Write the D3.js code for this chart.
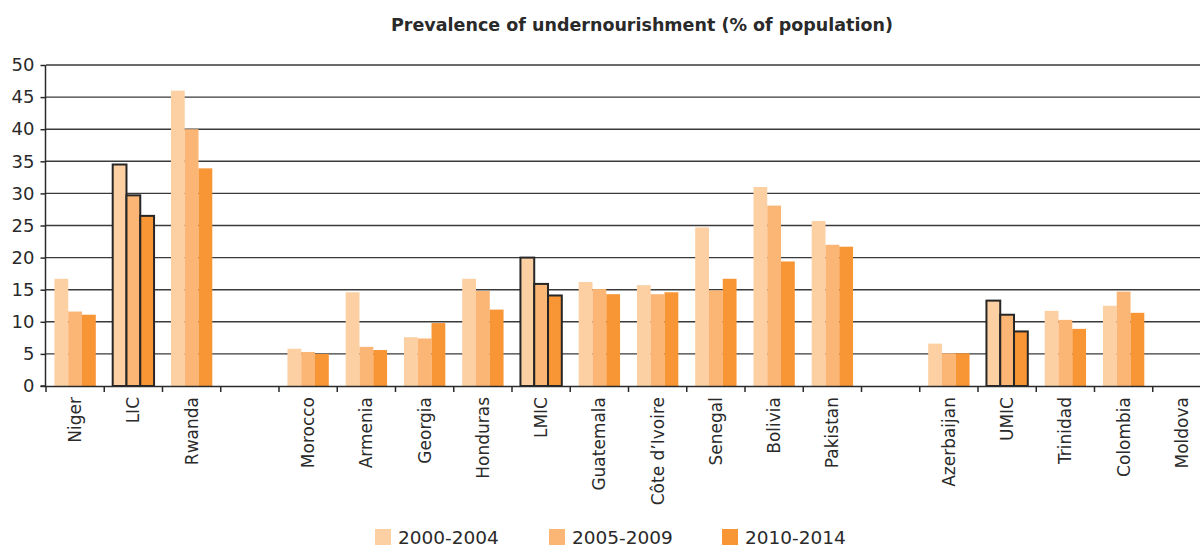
<!DOCTYPE html>
<html>
<head>
<meta charset="utf-8">
<script src="https://cdn.jsdelivr.net/npm/d3@7"></script>
<style>
  html, body { margin: 0; padding: 0; background: #fff; }
  svg { display: block; }
  text { font-family: "DejaVu Sans", Verdana, sans-serif; fill: #2a2a2a; }
</style>
</head>
<body>
<svg id="chart" width="1200" height="547"></svg>
<script>
const categories = ["Niger", "LIC", "Rwanda", "", "Morocco", "Armenia", "Georgia", "Honduras", "LMIC",
  "Guatemala", "Côte d\u2019Ivoire", "Senegal", "Bolivia", "Pakistan", "", "Azerbaijan", "UMIC",
  "Trinidad", "Colombia", "Moldova"];
const aggregates = ["LIC", "LMIC", "UMIC"];
const seriesNames = ["2000-2004", "2005-2009", "2010-2014"];
const s2000 = [16.7, 34.5, 46.0, null, 5.8, 14.6, 7.6, 16.7, 20.0, 16.2, 15.7, 24.7, 31.0, 25.7, null, 6.6, 13.3, 11.7, 12.5, null];
const s2005 = [11.6, 29.7, 40.0, null, 5.3, 6.1, 7.4, 14.8, 15.9, 15.1, 14.3, 14.9, 28.1, 22.0, null, 5.1, 11.1, 10.3, 14.7, null];
const s2010 = [11.1, 26.5, 33.9, null, 5.0, 5.6, 9.8, 11.9, 14.1, 14.3, 14.6, 16.7, 19.4, 21.7, null, 5.1, 8.5, 8.9, 11.4, null];
const yTicks = [0, 5, 10, 15, 20, 25, 30, 35, 40, 45, 50];
const colors = ["#FCD0A2", "#FBB574", "#F89534"];

const series = [s2000, s2005, s2010];
const svg = d3.select("#chart");
const keys = categories.map((c, i) => i);

const x = d3.scaleBand().domain(keys).range([46, 1211]).paddingInner(0).paddingOuter(0);
const groupW = x.bandwidth() * 0.71;
const xs = d3.scaleBand().domain([0, 1, 2]).range([0, groupW]).padding(0);
const y = d3.scaleLinear().domain([0, 50]).range([386, 65]);

// title
svg.append("text").attr("x", 642).attr("y", 31).attr("text-anchor", "middle")
  .style("font-weight", "bold").style("font-size", "17.5px").text("Prevalence of undernourishment (% of population)");

// gridlines
svg.append("g").selectAll("line").data(yTicks.filter(d => d > 0)).join("line")
  .attr("x1", 46).attr("x2", 1200).attr("y1", d => y(d)).attr("y2", d => y(d))
  .attr("stroke", "#3a3a3a").attr("stroke-width", 1.4);

// bars
const gBars = svg.append("g");
series.forEach((s, si) => {
  gBars.append("g").selectAll("rect")
    .data(keys.filter(i => s[i] != null))
    .join("rect")
    .attr("x", i => x(i) + (x.bandwidth() - groupW) / 2 + xs(si))
    .attr("width", xs.bandwidth())
    .attr("y", i => y(s[i]))
    .attr("height", i => y(0) - y(s[i]))
    .attr("fill", colors[si])
    .attr("stroke", i => aggregates.includes(categories[i]) ? "#262626" : "none")
    .attr("stroke-width", 2);
});

// y axis
const yAxis = d3.axisLeft(y).tickValues(yTicks).tickSize(5).tickPadding(6).tickFormat(d3.format("d"));
const gy = svg.append("g").attr("transform", "translate(45.5,0)").call(yAxis);
gy.select(".domain").attr("stroke", "#2a2a2a").attr("stroke-width", 1.5).attr("d", "M-5,386H0V65");
gy.selectAll(".tick line").attr("stroke", "#2a2a2a").attr("stroke-width", 1.5);
gy.selectAll(".tick text").style("font-size", "18px").attr("fill", "#2a2a2a");

// x axis
const boundaries = keys.map(i => x(i));
const gx = svg.append("g");
gx.append("line").attr("x1", 45).attr("x2", 1200).attr("y1", 386.5).attr("y2", 386.5)
  .attr("stroke", "#2a2a2a").attr("stroke-width", 1.5);
gx.selectAll("line.tk").data(boundaries).join("line").attr("class", "tk")
  .attr("x1", d => d).attr("x2", d => d).attr("y1", 386).attr("y2", 392)
  .attr("stroke", "#2a2a2a").attr("stroke-width", 1.5);
gx.selectAll("text").data(keys.filter(i => categories[i] !== "")).join("text")
  .attr("transform", i => `translate(${x(i) + x.bandwidth() / 2 + 6},397) rotate(-90)`)
  .attr("text-anchor", "end")
  .style("font-size", "17px")
  .text(i => categories[i]);

// legend
const legX = [375, 549, 722];
const lg = svg.append("g");
seriesNames.forEach((n, i) => {
  lg.append("rect").attr("x", legX[i]).attr("y", 529).attr("width", 16).attr("height", 16).attr("fill", colors[i]);
  lg.append("text").attr("x", legX[i] + 23).attr("y", 544).style("font-size", "18.5px").text(n);
});
</script>
</body>
</html>
